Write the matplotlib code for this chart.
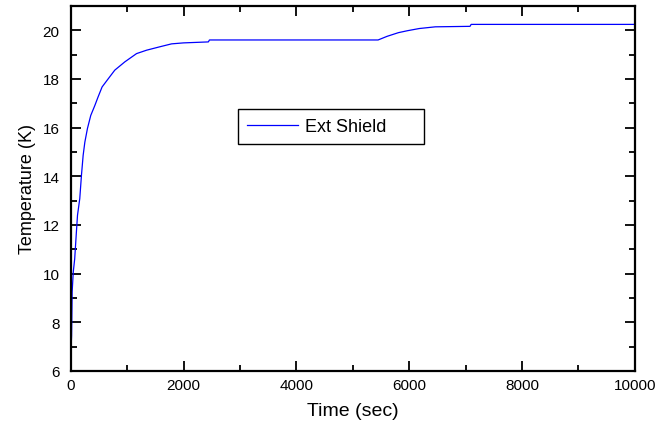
import numpy as np
import matplotlib.pyplot as plt
from matplotlib.ticker import MultipleLocator

plt.rcParams['font.family'] = ['Liberation Sans', 'DejaVu Sans']

# Ext shield temperature
time_s = [0, 15, 25, 45, 70, 100, 120, 160, 190, 220, 250, 296, 355, 426, 485,
          556, 663, 781, 959, 1167, 1345, 1580, 1788, 2000, 2440, 2460, 5450,
          5610, 5810, 5970, 6180, 6465, 7080, 7100, 10000]
temp_k = [6.6, 7.45, 9.25, 10.07, 10.6, 11.7, 12.4, 13.08, 14.04, 14.86, 15.4,
          15.96, 16.5, 16.9, 17.26, 17.67, 18.0, 18.36, 18.7, 19.04, 19.18,
          19.32, 19.44, 19.48, 19.52, 19.6, 19.6, 19.75, 19.9, 19.98, 20.07,
          20.14, 20.16, 20.24, 20.24]

fig = plt.figure(figsize=(6.55, 4.31), dpi=100)
ax = fig.add_axes([0.108, 0.137, 0.861, 0.847])

ax.plot(time_s, temp_k, color="#0000ff", linewidth=0.9, label="Ext Shield")

ax.set_xlim(0, 10000)
ax.set_ylim(6, 21)
ax.xaxis.set_major_locator(MultipleLocator(2000))
ax.xaxis.set_minor_locator(MultipleLocator(1000))
ax.yaxis.set_major_locator(MultipleLocator(2))
ax.yaxis.set_minor_locator(MultipleLocator(1))
ax.tick_params(which="both", direction="in", top=True, right=True, width=1.3,
               labelsize=11)
ax.tick_params(which="major", length=7, pad=5)
ax.tick_params(axis="y", which="major", pad=8)
ax.tick_params(which="minor", length=4)
for sp in ax.spines.values():
    sp.set_linewidth(1.6)

ax.set_xlabel("Time (sec)", fontsize=14, labelpad=7)
ax.set_ylabel("Temperature (K)", fontsize=13, labelpad=5)

leg = ax.legend(loc="lower left", bbox_to_anchor=(0.296, 0.622, 0.331, 0.098),
                mode="expand", borderaxespad=0, fancybox=False,
                edgecolor="black", fontsize=13, handlelength=2.85,
                handletextpad=0.4, borderpad=0.5, framealpha=1)
leg.get_frame().set_linewidth(1.0)

plt.savefig("out.png", dpi=100)
